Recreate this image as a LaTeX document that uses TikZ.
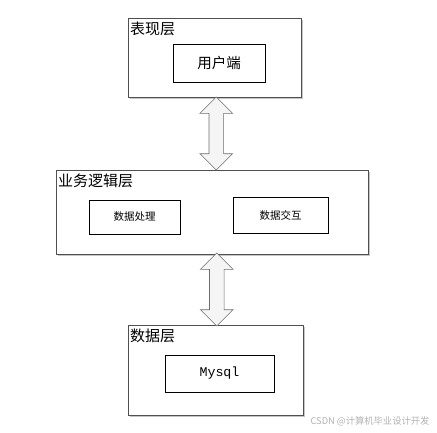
\documentclass[tikz,border=0pt]{standalone}
\usepackage{fontspec}
\usepackage{tikz}
\usetikzlibrary{shapes.arrows,shadows,calc}
\newfontfamily\cjk{Noto Sans CJK SC}
\setmonofont{Liberation Mono}
\definecolor{FrameGray}{RGB}{80,80,80}
\definecolor{ArrowFill}{RGB}{245,245,245}
\definecolor{ArrowLine}{RGB}{110,110,110}

\begin{document}
\begin{tikzpicture}[x=1pt, y=-1pt,
    layerbox/.style={draw=FrameGray, line width=0.8pt, fill=white, inner sep=0pt,
        drop shadow={shadow xshift=1.5pt, shadow yshift=-1.5pt, fill=gray!45, opacity=1}},
    partbox/.style={draw=black, line width=0.7pt, fill=white, inner sep=0pt},
    layertitle/.style={anchor=north west, inner sep=1pt, font=\cjk\fontsize{15}{17}\selectfont},
    dblarrow/.style={double arrow, draw=ArrowLine, fill=ArrowFill, line width=0.6pt,
        inner sep=7pt, double arrow head extend=9pt, double arrow tip angle=90,
        minimum height=73pt, rotate=90}]
    \useasboundingbox (0,0) rectangle (437,432);

    % Layers
    \node[layerbox, minimum width=173pt, minimum height=79pt] (pres) at (214.5,57.5) {};
    \node[layerbox, minimum width=312pt, minimum height=84pt] (biz) at (212,212) {};
    \node[layerbox, minimum width=175pt, minimum height=90pt] (data) at (215.5,370) {};

    % Layer titles
    \node[layertitle] (presT) at (129,21) {表现层};
    \node[layertitle] (bizT) at (57,173) {业务逻辑层};
    \node[layertitle] (dataT) at (129,328) {数据层};

    % Parts
    \node[partbox, minimum width=92pt, minimum height=38pt, font=\cjk\fontsize{14.5}{17}\selectfont] (client) at (219,63) {用户端};
    \node[partbox, minimum width=91pt, minimum height=34pt, font=\cjk\fontsize{10.5}{12}\selectfont] (proc) at (134.5,217) {数据处理};
    \node[partbox, minimum width=95pt, minimum height=36pt, font=\cjk\fontsize{10.5}{12}\selectfont] (inter) at (280.5,215) {数据交互};
    \node[partbox, minimum width=109pt, minimum height=37pt, font=\ttfamily\fontsize{13.3}{15}\selectfont] (mysql) at (219.5,373.5) {Mysql};

    % Connections
    \node[dblarrow] (a1) at ($(pres.south)!0.5!(biz.north) + (3,0)$) {};
    \node[dblarrow] (a2) at ($(biz.south)!0.5!(data.north) + (3,0)$) {};

    % Watermark
    \node[text=gray!60, anchor=east, font=\cjk\fontsize{9.3}{11}\selectfont] (mark) at (433,421) {CSDN @计算机毕业设计开发};
\end{tikzpicture}
\end{document}
